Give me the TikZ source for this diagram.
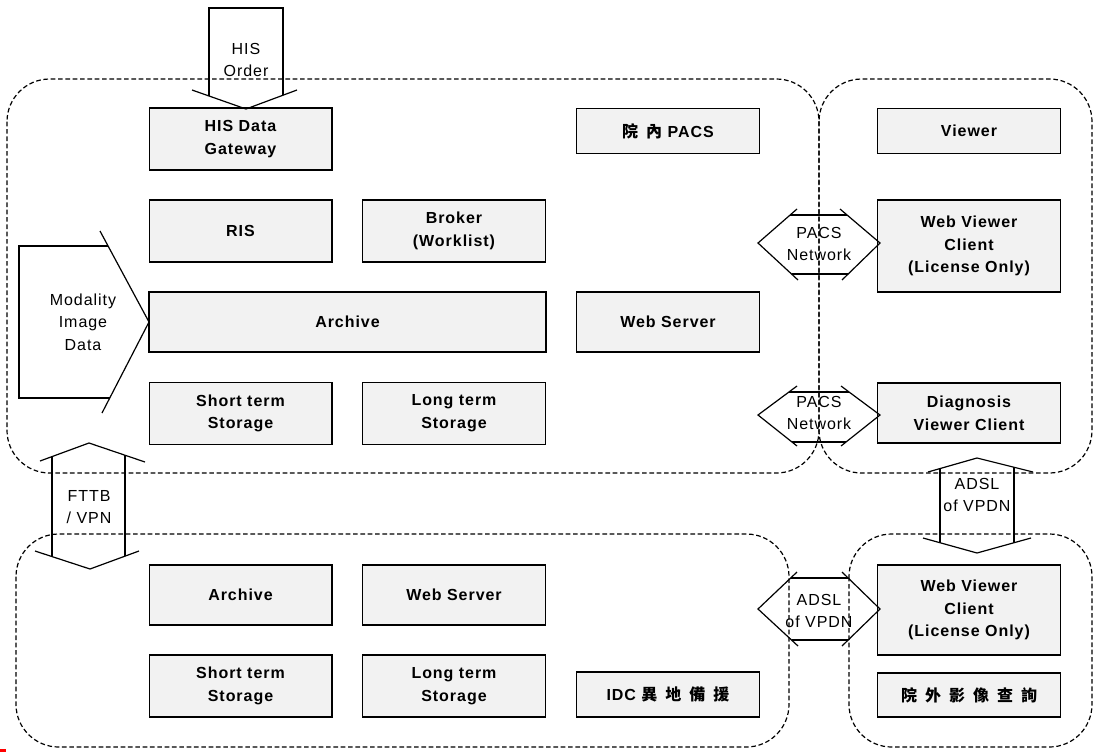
\documentclass[tikz,border=0pt]{standalone}
\usepackage{fontspec}
\setmainfont{Liberation Sans}[LetterSpace=6]
\newfontfamily\cjk{Noto Sans CJK TC}[LetterSpace=50]
\tikzset{
	box/.style={draw,line width=1pt,fill=gray!10,inner sep=0pt,align=center,
		font=\fontsize{12}{17}\selectfont\bfseries,minimum width=137pt,minimum height=46.5pt},
	lbl/.style={align=center,inner sep=0pt,font=\fontsize{12}{17}\selectfont},
	region/.style={dashed,dash pattern=on 3.5pt off 2pt,line width=.9pt,rounded corners=32pt},
	blk/.style={line width=.9pt}
}
\begin{document}
\begin{tikzpicture}[x=.75pt,y=-.75pt]
	\useasboundingbox (0,0) rectangle (1096,754);
	% dashed areas
	\draw[region] (7,79) rectangle (819,473);
	\draw[region] (819,79) rectangle (1092,473);
	\draw[region] (16,534) rectangle (789,747);
	\draw[region] (849,534) rectangle (1092,747);
	% top site
	\node[box] (hisgw) at (240.5,139) {HIS Data\\Gateway};
	\node[box,minimum height=33.75pt] (pacs) at (668,131) {{\cjk 院內} PACS};
	\node[box,minimum height=33.75pt] (viewer) at (969,131) {Viewer};
	\node[box] (ris) at (240.5,231) {RIS};
	\node[box] (broker) at (454,231) {Broker\\(Worklist)};
	\node[box,minimum height=69pt] (wvc) at (969,246) {Web Viewer\\Client\\(License Only)};
	\node[box,minimum width=297.75pt,minimum height=45pt] (archive) at (347.5,322) {Archive};
	\node[box,minimum height=45pt] (websrv) at (668,322) {Web Server};
	\node[box] (short) at (240.5,413.5) {Short term\\Storage};
	\node[box] (long) at (454,413.5) {Long term\\Storage};
	\node[box,minimum height=45pt] (diag) at (969,413) {Diagnosis\\Viewer Client};
	% backup site
	\node[box,minimum height=45pt] (archiveb) at (240.5,595) {Archive};
	\node[box,minimum height=45pt] (websrvb) at (454,595) {Web Server};
	\node[box,minimum height=67.5pt] (wvcb) at (969,610) {Web Viewer\\Client\\(License Only)};
	\node[box] (shortb) at (240.5,686) {Short term\\Storage};
	\node[box] (longb) at (454,686) {Long term\\Storage};
	\node[box,minimum height=33.75pt] (idc) at (668,694.5) {IDC {\cjk 異地備援}};
	\node[box,minimum height=33pt] (outside) at (969,695) {{\cjk 院外影像查詢}};
	% HIS order
	\draw[blk] (209,96) -- (209,8) -- (283,8) -- (283,95);
	\draw[blk] (192,90) -- (246,109) -- (297,90);
	\node[lbl] (hisorder) at (246,60) {HIS\\Order};
	% modality data
	\draw[blk] (108,246) -- (19,246) -- (19,398) -- (110,398);
	\draw[blk] (100,231) -- (149,322) -- (102,413);
	\node[lbl] (modality) at (83,322) {Modality\\Image\\Data};
	% FTTB / VPN
	\draw[blk] (40,461) -- (89,443) -- (145,462);
	\draw[blk] (35,551) -- (90,569) -- (139,551);
	\draw[blk] (52,457) -- (52,557);
	\draw[blk] (125,455) -- (125,556);
	\node[lbl] (fttb) at (89,507) {FTTB\\/ VPN};
	% ADSL vertical
	\draw[blk] (928,472) -- (977,458) -- (1033,472);
	\draw[blk] (923,538) -- (977,553) -- (1031,538);
	\draw[blk] (940,469) -- (940,543);
	\draw[blk] (1014,467) -- (1014,543);
	\node[lbl] (adslv) at (977,495) {ADSL\\of VPDN};
	% PACS network, upper
	\draw[blk] (797,209) -- (758,243) -- (798,280);
	\draw[blk] (840,209) -- (880,243) -- (842,280);
	\draw[blk] (790,215) -- (847,215);
	\draw[blk] (791.5,274) -- (848,274);
	\node[lbl] (pacsnet) at (819,244) {PACS\\Network};
	% PACS network, lower
	\draw[blk] (797,386) -- (758,415) -- (797,446);
	\draw[blk] (841,386) -- (880,415) -- (841,446);
	\draw[blk] (789,392) -- (849,392);
	\draw[blk] (792,442) -- (846,442);
	\node[lbl] (pacsnetb) at (819,413) {PACS\\Network};
	% ADSL horizontal
	\draw[blk] (797,572) -- (758,609) -- (798,646);
	\draw[blk] (842,572) -- (880,609) -- (842,646);
	\draw[blk] (790.5,578) -- (848,578);
	\draw[blk] (791.5,640) -- (848,640);
	\node[lbl] (adslh) at (819,611) {ADSL\\of VPDN};
	% red mark
	\fill[red] (0,749) rectangle (6,752);
\end{tikzpicture}
\end{document}
